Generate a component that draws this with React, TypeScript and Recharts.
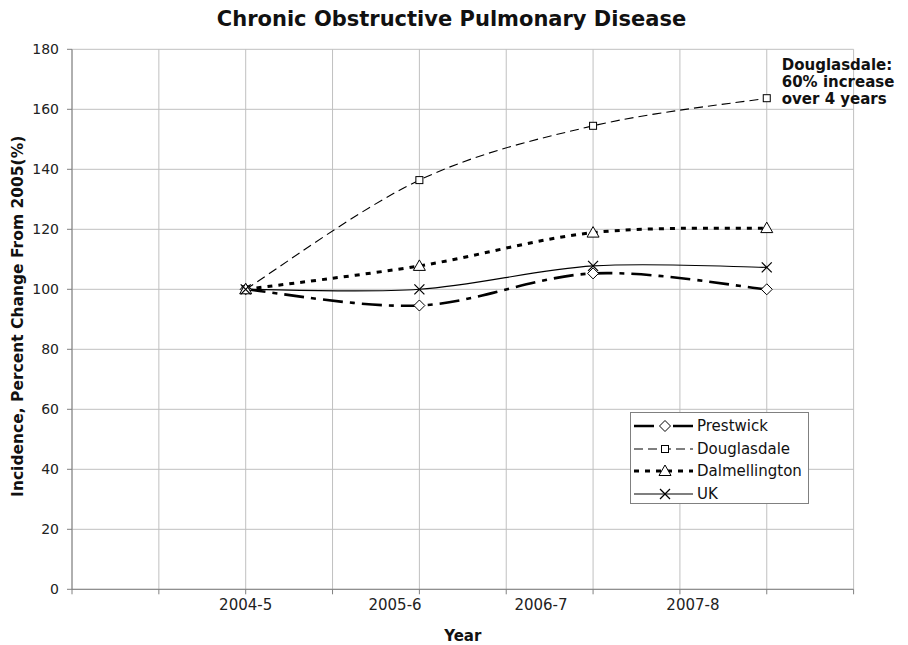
import React from 'react';
import { LineChart, Line, XAxis, YAxis, CartesianGrid, Legend, LabelList, Label } from 'recharts';

// periods and where they sit on the (0..9) plot axis
const periods = ['2004-5', '2005-6', '2006-7', '2007-8'];
const periodX = [2, 4, 6, 8];

// incidence, % of 2005 value
const prestwick = [100, 94.6, 105.3, 100];
const douglasdale = [100, 136.4, 154.5, 163.7];
const dalmellington = [100, 107.8, 118.9, 120.4];
const uk = [100, 100, 107.8, 107.3];

const gridTicksX = [0, 1, 2, 3, 4, 5, 6, 7, 8, 9];
const yearLabelTicks = [2, 3.72, 5.4, 7.15];
const yTicks = [0, 20, 40, 60, 80, 100, 120, 140, 160, 180];

const data = periods.map((p, i) => ({
  period: p,
  x: periodX[i],
  Prestwick: prestwick[i],
  Douglasdale: douglasdale[i],
  Dalmellington: dalmellington[i],
  UK: uk[i],
}));

const FONT = '"DejaVu Sans", Verdana, sans-serif';
const W = 892;
const H = 637;

// Excel-like smoothing (Catmull-Rom as cubic beziers)
const excelSmooth = (context: any) => {
  let pts: [number, number][] = [];
  return {
    areaStart() {},
    areaEnd() {},
    lineStart() {
      pts = [];
    },
    point(x: number, y: number) {
      pts.push([+x, +y]);
    },
    lineEnd() {
      if (!pts.length) return;
      context.moveTo(pts[0][0], pts[0][1]);
      for (let i = 0; i < pts.length - 1; i++) {
        const p0 = pts[Math.max(i - 1, 0)];
        const p1 = pts[i];
        const p2 = pts[i + 1];
        const p3 = pts[Math.min(i + 2, pts.length - 1)];
        context.bezierCurveTo(
          p1[0] + (p2[0] - p0[0]) / 6,
          p1[1] + (p2[1] - p0[1]) / 6,
          p2[0] - (p3[0] - p1[0]) / 6,
          p2[1] - (p3[1] - p1[1]) / 6,
          p2[0],
          p2[1]
        );
      }
    },
  };
};

type MarkerKind = 'diamond' | 'square' | 'triangle' | 'cross';

function Marker({ kind, cx, cy }: { kind: MarkerKind; cx: number; cy: number }) {
  const s = { fill: '#fff', stroke: '#000', strokeWidth: 1 };
  if (kind === 'diamond') {
    return <polygon points={`${cx},${cy - 5.5} ${cx + 5.5},${cy} ${cx},${cy + 5.5} ${cx - 5.5},${cy}`} {...s} />;
  }
  if (kind === 'square') {
    return <rect x={cx - 3.5} y={cy - 3.5} width={7} height={7} {...s} />;
  }
  if (kind === 'triangle') {
    return <polygon points={`${cx},${cy - 6} ${cx + 6},${cy + 4.5} ${cx - 6},${cy + 4.5}`} {...s} />;
  }
  return (
    <g stroke="#000" strokeWidth={1.2}>
      <line x1={cx - 5} y1={cy - 5} x2={cx + 5} y2={cy + 5} />
      <line x1={cx - 5} y1={cy + 5} x2={cx + 5} y2={cy - 5} />
    </g>
  );
}

const series: { key: string; dash?: string; width: number; marker: MarkerKind }[] = [
  { key: 'Prestwick', dash: '20 7 5 7', width: 2.6, marker: 'diamond' },
  { key: 'Douglasdale', dash: '9 5', width: 1.1, marker: 'square' },
  { key: 'Dalmellington', dash: '5 6', width: 3, marker: 'triangle' },
  { key: 'UK', width: 1.1, marker: 'cross' },
];

const makeDot = (kind: MarkerKind) => (props: any) => (
  <Marker key={`${kind}-${props.index}`} kind={kind} cx={props.cx} cy={props.cy} />
);

function LegendBox() {
  const rowY = [13, 36, 58, 81];
  return (
    <div style={{ width: 177, height: 90, border: '1px solid #808080', background: '#fff' }}>
      <svg width={177} height={90}>
        {series.map((s, i) => (
          <g key={s.key}>
            <line
              x1={3}
              x2={62}
              y1={rowY[i]}
              y2={rowY[i]}
              stroke="#000"
              strokeWidth={s.width}
              strokeDasharray={s.dash}
            />
            <Marker kind={s.marker} cx={34} cy={rowY[i]} />
            <text x={66} y={rowY[i] + 5} fontSize={15} fontFamily={FONT} fill="#111">
              {s.key}
            </text>
          </g>
        ))}
      </svg>
    </div>
  );
}

const renderNote = (props: any) => {
  if (props.index !== periods.length - 1) return null;
  const x = Number(props.x) + 15;
  const y = Number(props.y);
  const lines = ['Douglasdale:', '60% increase', 'over 4 years'];
  return (
    <text key="note" fontSize={15} fontWeight="bold" fontFamily={FONT} fill="#111">
      {lines.map((l, i) => (
        <tspan key={l} x={x} y={y - 28 + i * 17}>
          {l}
        </tspan>
      ))}
    </text>
  );
};

const renderYTitle = (props: any) => {
  const vb = props.viewBox || {};
  const cy = vb.y + vb.height / 2 - 3;
  return (
    <text
      x={10.5}
      y={cy}
      transform={`rotate(-90 10.5 ${cy})`}
      textAnchor="middle"
      dominantBaseline="central"
      fontSize={15.5}
      fontWeight="bold"
      fontFamily={FONT}
      fill="#111"
    >
      Incidence, Percent Change From 2005(%)
    </text>
  );
};

const renderXTitle = (props: any) => {
  const vb = props.viewBox || {};
  return (
    <text
      x={vb.x + vb.width / 2}
      y={vb.y + vb.height - 4}
      textAnchor="middle"
      fontSize={15}
      fontWeight="bold"
      fontFamily={FONT}
      fill="#111"
    >
      Year
    </text>
  );
};

export default function App() {
  return (
    <div style={{ position: 'relative', width: W, height: H, fontFamily: FONT }}>
      <style>{'html, body { overflow: hidden; }'}</style>
      <svg width={W} height={32} style={{ position: 'absolute', left: 0, top: 0 }}>
        <text x={443.5} y={17.5} textAnchor="middle" fontSize={21} fontWeight="bold" fontFamily={FONT} fill="#111">
          Chronic Obstructive Pulmonary Disease
        </text>
      </svg>
      <LineChart width={W} height={H} data={data} margin={{ top: 41.3, right: 46.4, left: 14, bottom: 0 }}>
        <CartesianGrid xAxisId="grid" stroke="#c0c0c0" strokeWidth={1} />
        <XAxis
          xAxisId="grid"
          type="number"
          dataKey="x"
          domain={[0, 9]}
          ticks={gridTicksX}
          interval={0}
          height={6}
          tickSize={5}
          tick={() => <g />}
          stroke="#808080"
        />
        <XAxis
          xAxisId="labels"
          type="number"
          dataKey="x"
          domain={[0, 9]}
          ticks={yearLabelTicks}
          interval={0}
          height={49.7}
          axisLine={false}
          tickLine={false}
          tickSize={0}
          tickMargin={4}
          tickFormatter={(v: number) => periods[yearLabelTicks.indexOf(v)] ?? ''}
          tick={{ fontSize: 15, fill: '#222', fontFamily: FONT }}
        >
          <Label content={renderXTitle} />
        </XAxis>
        <YAxis
          type="number"
          domain={[0, 180]}
          ticks={yTicks}
          interval={0}
          width={50}
          tickSize={5}
          tickMargin={8}
          stroke="#808080"
          tick={{ fontSize: 14, fill: '#222', fontFamily: FONT }}
        >
          <Label content={renderYTitle} />
        </YAxis>
        <Legend
          layout="vertical"
          align="center"
          verticalAlign="middle"
          content={() => <LegendBox />}
          wrapperStyle={{ left: 622, top: 404, width: 179, height: 92 }}
        />
        {series.map((s) => (
          <Line
            key={s.key}
            xAxisId="grid"
            dataKey={s.key}
            type={excelSmooth as any}
            stroke="#000"
            strokeWidth={s.width}
            strokeDasharray={s.dash}
            dot={makeDot(s.marker)}
            activeDot={false}
            isAnimationActive={false}
          >
            {s.key === 'Douglasdale' ? <LabelList dataKey={s.key} content={renderNote} /> : null}
          </Line>
        ))}
      </LineChart>
    </div>
  );
}
